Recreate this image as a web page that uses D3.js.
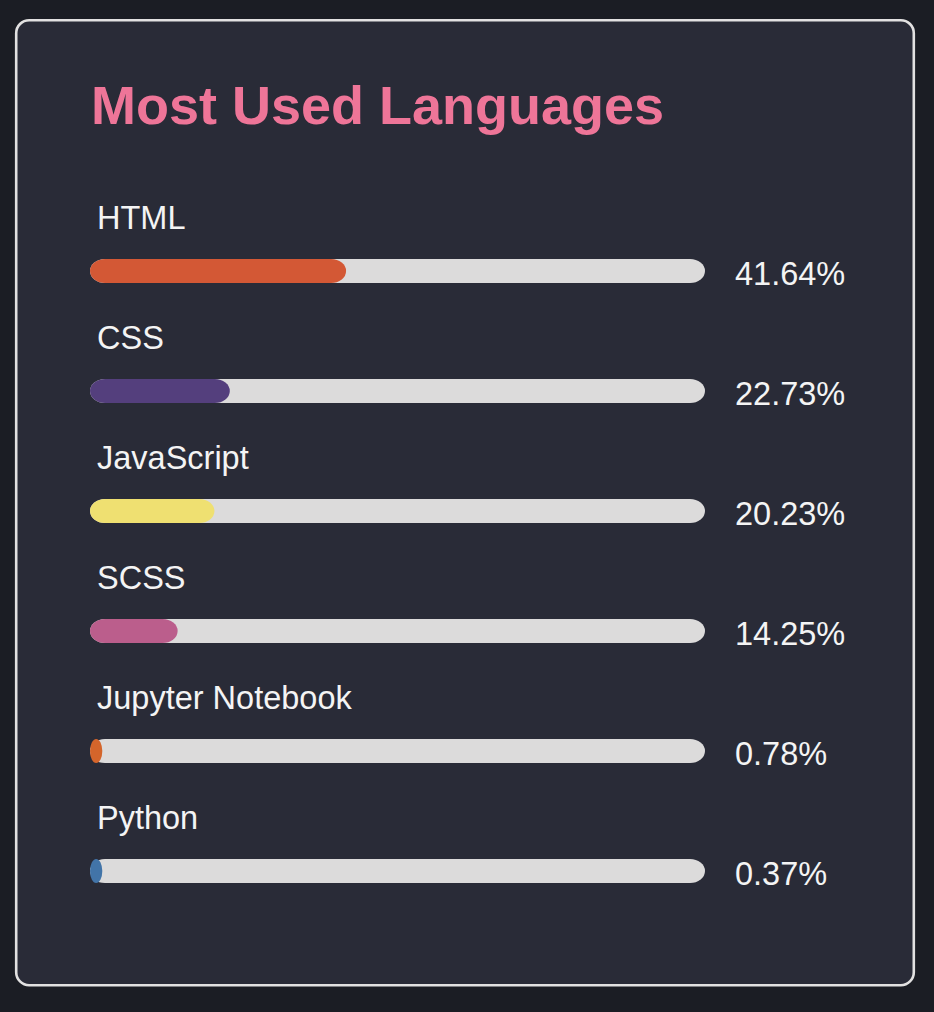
<!DOCTYPE html>
<html>
<head>
<meta charset="utf-8">
<script src="https://cdn.jsdelivr.net/npm/d3@7"></script>
<style>
  html, body { margin: 0; padding: 0; background: #1b1d24; }
  svg { display: block; }
  text { font-family: "Liberation Sans", Arial, Helvetica, sans-serif; }
</style>
</head>
<body>
<svg id="chart" width="934" height="1012"></svg>
<script>
const title = "Most Used Languages";
const languages = ["HTML", "CSS", "JavaScript", "SCSS", "Jupyter Notebook", "Python"];
const percents = [41.64, 22.73, 20.23, 14.25, 0.78, 0.37];
const colors = ["#d35835", "#543f7d", "#efe071", "#bb5e8c", "#d4652b", "#4274a8"];

const svg = d3.select("#chart");

// card
svg.append("rect")
  .attr("x", 0).attr("y", 0).attr("width", 934).attr("height", 1012)
  .attr("fill", "#1b1d24");
svg.append("rect")
  .attr("x", 16.2).attr("y", 20.2)
  .attr("width", 897.6).attr("height", 965)
  .attr("rx", 13).attr("ry", 13)
  .attr("fill", "#292b37")
  .attr("stroke", "#e2e1e1")
  .attr("stroke-width", 2.6);

// title
svg.append("text")
  .attr("x", 91).attr("y", 124)
  .attr("fill", "#ee7598")
  .attr("font-size", 54)
  .attr("font-weight", 700)
  .text(title);

const barX = 90, barW = 615, barH = 24;
const x = d3.scaleLinear().domain([0, 100]).range([0, barW]);
const y = d3.scaleBand().domain(languages).range([199, 919]).paddingInner(0).paddingOuter(0);

const rows = svg.append("g").selectAll("g")
  .data(languages.map((name, i) => ({ name, pct: percents[i], color: colors[i] })))
  .join("g")
  .attr("transform", d => `translate(0, ${y(d.name)})`);

rows.append("text")
  .attr("x", 97).attr("y", 30)
  .attr("fill", "#f4f4f4")
  .attr("font-size", 32.5)
  .text(d => d.name);

rows.append("rect")
  .attr("x", barX).attr("y", 60)
  .attr("width", barW).attr("height", barH)
  .attr("rx", 15).attr("ry", 12)
  .attr("fill", "#dcdbdb");

rows.append("rect")
  .attr("x", barX).attr("y", 60)
  .attr("width", d => x(Math.max(2, d.pct)))
  .attr("height", barH)
  .attr("rx", d => Math.min(15, x(Math.max(2, d.pct)) / 2)).attr("ry", 12)
  .attr("fill", d => d.color);

rows.append("text")
  .attr("x", 735).attr("y", 86)
  .attr("fill", "#f4f4f4")
  .attr("font-size", 32.5)
  .text(d => d.pct.toFixed(2) + "%");
</script>
</body>
</html>
